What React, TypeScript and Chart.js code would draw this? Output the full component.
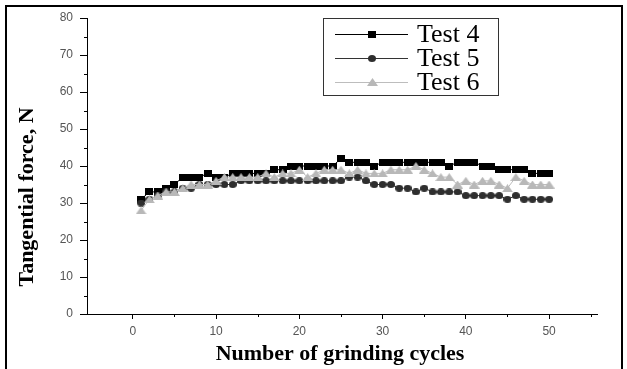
import React, { useEffect, useRef } from "react";
import { Chart, registerables } from "chart.js";

Chart.register(...registerables);

const cycles = [1, 2, 3, 4, 5, 6, 7, 8, 9, 10, 11, 12, 13, 14, 15, 16, 17, 18, 19, 20, 21, 22, 23, 24, 25, 26, 27, 28, 29, 30, 31, 32, 33, 34, 35, 36, 37, 38, 39, 40, 41, 42, 43, 44, 45, 46, 47, 48, 49, 50];
const test4 = [31, 33, 33, 34, 35, 37, 37, 37, 38, 37, 37, 38, 38, 38, 38, 38, 39, 39, 40, 40, 40, 40, 40, 40, 42, 41, 41, 41, 40, 41, 41, 41, 41, 41, 41, 41, 41, 40, 41, 41, 41, 40, 40, 39, 39, 39, 39, 38, 38, 38];
const test5 = [30, 31, 32, 33, 33, 34, 34, 35, 35, 35, 35, 35, 36, 36, 36, 36, 36, 36, 36, 36, 36, 36, 36, 36, 36, 37, 37, 36, 35, 35, 35, 34, 34, 33, 34, 33, 33, 33, 33, 32, 32, 32, 32, 32, 31, 32, 31, 31, 31, 31];
const test6 = [28, 31, 32, 33, 33, 34, 35, 35, 35, 36, 37, 37, 37, 37, 37, 38, 37, 38, 38, 39, 37, 38, 39, 39, 39, 38, 39, 38, 38, 38, 39, 39, 39, 40, 39, 38, 37, 37, 35, 36, 35, 36, 36, 35, 34, 37, 36, 35, 35, 35];

const seriesNames = ["Test 4", "Test 5", "Test 6"];
const xTickValues = [0, 10, 20, 30, 40, 50];
const xMinorTicks = [5, 15, 25, 35, 45, 55];
const yTickValues = [0, 10, 20, 30, 40, 50, 60, 70, 80];
const yMinorTicks = [5, 15, 25, 35, 45, 55, 65, 75];
const xTitle = "Number of grinding cycles";
const yTitle = "Tangential force, N";

const lineColors = ["#000000", "#333333", "#bdbdbd"];
const markerColors = ["#000000", "#2e2e2e", "#b8b8b8"];

function makeMarker(kind: string, color: string): HTMLCanvasElement {
  const c = document.createElement("canvas");
  let w = 8, h = 7;
  if (kind === "triangle") { w = 11; h = 8; }
  c.width = w;
  c.height = h;
  const ctx = c.getContext("2d")!;
  ctx.fillStyle = color;
  if (kind === "square") {
    ctx.fillRect(0, 0, w, h);
  } else if (kind === "circle") {
    ctx.beginPath();
    ctx.ellipse(w / 2, h / 2, w / 2, h / 2, 0, 0, Math.PI * 2);
    ctx.fill();
  } else {
    ctx.beginPath();
    ctx.moveTo(w / 2, 0);
    ctx.lineTo(w, h);
    ctx.lineTo(0, h);
    ctx.closePath();
    ctx.fill();
  }
  return c;
}

export default function App() {
  const ref = useRef<HTMLCanvasElement | null>(null);

  useEffect(() => {
    document.body.style.margin = "0";
    const canvas = ref.current;
    if (!canvas) return;
    const markers = [
      makeMarker("square", markerColors[0]),
      makeMarker("circle", markerColors[1]),
      makeMarker("triangle", markerColors[2]),
    ];
    const series = [test4, test5, test6];

    const decor = {
      id: "decor",
      afterDraw(chart: any) {
        const ctx = chart.ctx as CanvasRenderingContext2D;
        const xs = chart.scales.x;
        const ys = chart.scales.y;
        const area = chart.chartArea;
        ctx.save();
        // frame
        ctx.fillStyle = "#000";
        ctx.fillRect(5, 5, 2, 369);
        ctx.fillRect(5, 5, 618, 2);
        ctx.fillRect(621, 5, 2, 369);
        // minor ticks
        ctx.strokeStyle = "#000";
        ctx.lineWidth = 1;
        ctx.beginPath();
        xMinorTicks.forEach((v) => {
          const px = Math.round(xs.getPixelForValue(v)) + 0.5;
          ctx.moveTo(px, area.bottom);
          ctx.lineTo(px, area.bottom + 3);
        });
        yMinorTicks.forEach((v) => {
          const py = Math.round(ys.getPixelForValue(v)) + 0.5;
          ctx.moveTo(area.left - 3, py);
          ctx.lineTo(area.left, py);
        });
        ctx.stroke();
        // axis titles
        ctx.fillStyle = "#000";
        ctx.font = "bold 22px 'Liberation Serif'";
        ctx.textAlign = "center";
        ctx.textBaseline = "alphabetic";
        ctx.fillText(xTitle, 340, 360);
        ctx.save();
        ctx.translate(33, 197);
        ctx.rotate(-Math.PI / 2);
        ctx.font = "bold 22px 'Liberation Serif'";
        ctx.fillText(yTitle, 0, 0);
        ctx.restore();
        // legend
        ctx.fillStyle = "#fff";
        ctx.fillRect(323, 18, 175, 77);
        ctx.strokeStyle = "#333";
        ctx.lineWidth = 1;
        ctx.strokeRect(323.5, 18.5, 175, 77);
        const rowY = [34, 58, 82];
        seriesNames.forEach((name, i) => {
          const y = rowY[i];
          ctx.strokeStyle = lineColors[i];
          ctx.lineWidth = 1;
          ctx.beginPath();
          ctx.moveTo(335, y + 0.5);
          ctx.lineTo(408, y + 0.5);
          ctx.stroke();
          const m = markers[i];
          ctx.drawImage(m, Math.round(372 - m.width / 2), Math.round(y - m.height / 2));
          ctx.fillStyle = "#000";
          ctx.font = "26px 'Liberation Serif'";
          ctx.textAlign = "left";
          ctx.textBaseline = "alphabetic";
          ctx.fillText(name, 417, y + 8);
        });
        ctx.restore();
      },
    };

    const chart = new Chart(canvas, {
      type: "line",
      data: {
        datasets: series.map((s, i) => ({
          label: seriesNames[i],
          data: cycles.map((c, j) => ({ x: c, y: s[j] })),
          borderColor: lineColors[i],
          backgroundColor: markerColors[i],
          borderWidth: 1,
          pointStyle: markers[i] as any,
          pointRadius: 4,
          fill: false,
          tension: 0,
          order: 3 - i,
        })),
      },
      options: {
        animation: false,
        responsive: false,
        devicePixelRatio: 1,
        layout: { padding: { top: 18, right: 30, left: 0, bottom: 0 } },
        plugins: { legend: { display: false }, tooltip: { enabled: false } },
        scales: {
          x: {
            type: "linear",
            min: -5.5,
            max: 55.75,
            afterBuildTicks: (s: any) => {
              s.ticks = xTickValues.map((v) => ({ value: v }));
            },
            afterFit: (s: any) => {
              s.height = 55;
            },
            grid: { display: true, drawOnChartArea: false, drawTicks: true, tickLength: 5, color: "#000", tickWidth: 1 },
            border: { display: true, color: "#000", width: 1 },
            ticks: {
              font: { family: "'Liberation Sans'", size: 12 },
              color: "#555",
              padding: 5,
              maxRotation: 0,
              autoSkip: false,
            },
          },
          y: {
            type: "linear",
            min: 0,
            max: 80,
            afterBuildTicks: (s: any) => {
              s.ticks = yTickValues.map((v) => ({ value: v }));
            },
            afterFit: (s: any) => {
              s.width = 87;
            },
            grid: { display: true, drawOnChartArea: false, drawTicks: true, tickLength: 7, color: "#000", tickWidth: 1 },
            border: { display: true, color: "#000", width: 1 },
            ticks: {
              font: { family: "'Liberation Sans'", size: 12 },
              color: "#555",
              padding: 7,
              autoSkip: false,
            },
          },
        },
      },
      plugins: [decor],
    });
    return () => chart.destroy();
  }, []);

  return (
    <div style={{ width: 627, height: 369, position: "relative", background: "#fff" }}>
      <canvas ref={ref} width={627} height={369} style={{ display: "block" }} />
    </div>
  );
}
